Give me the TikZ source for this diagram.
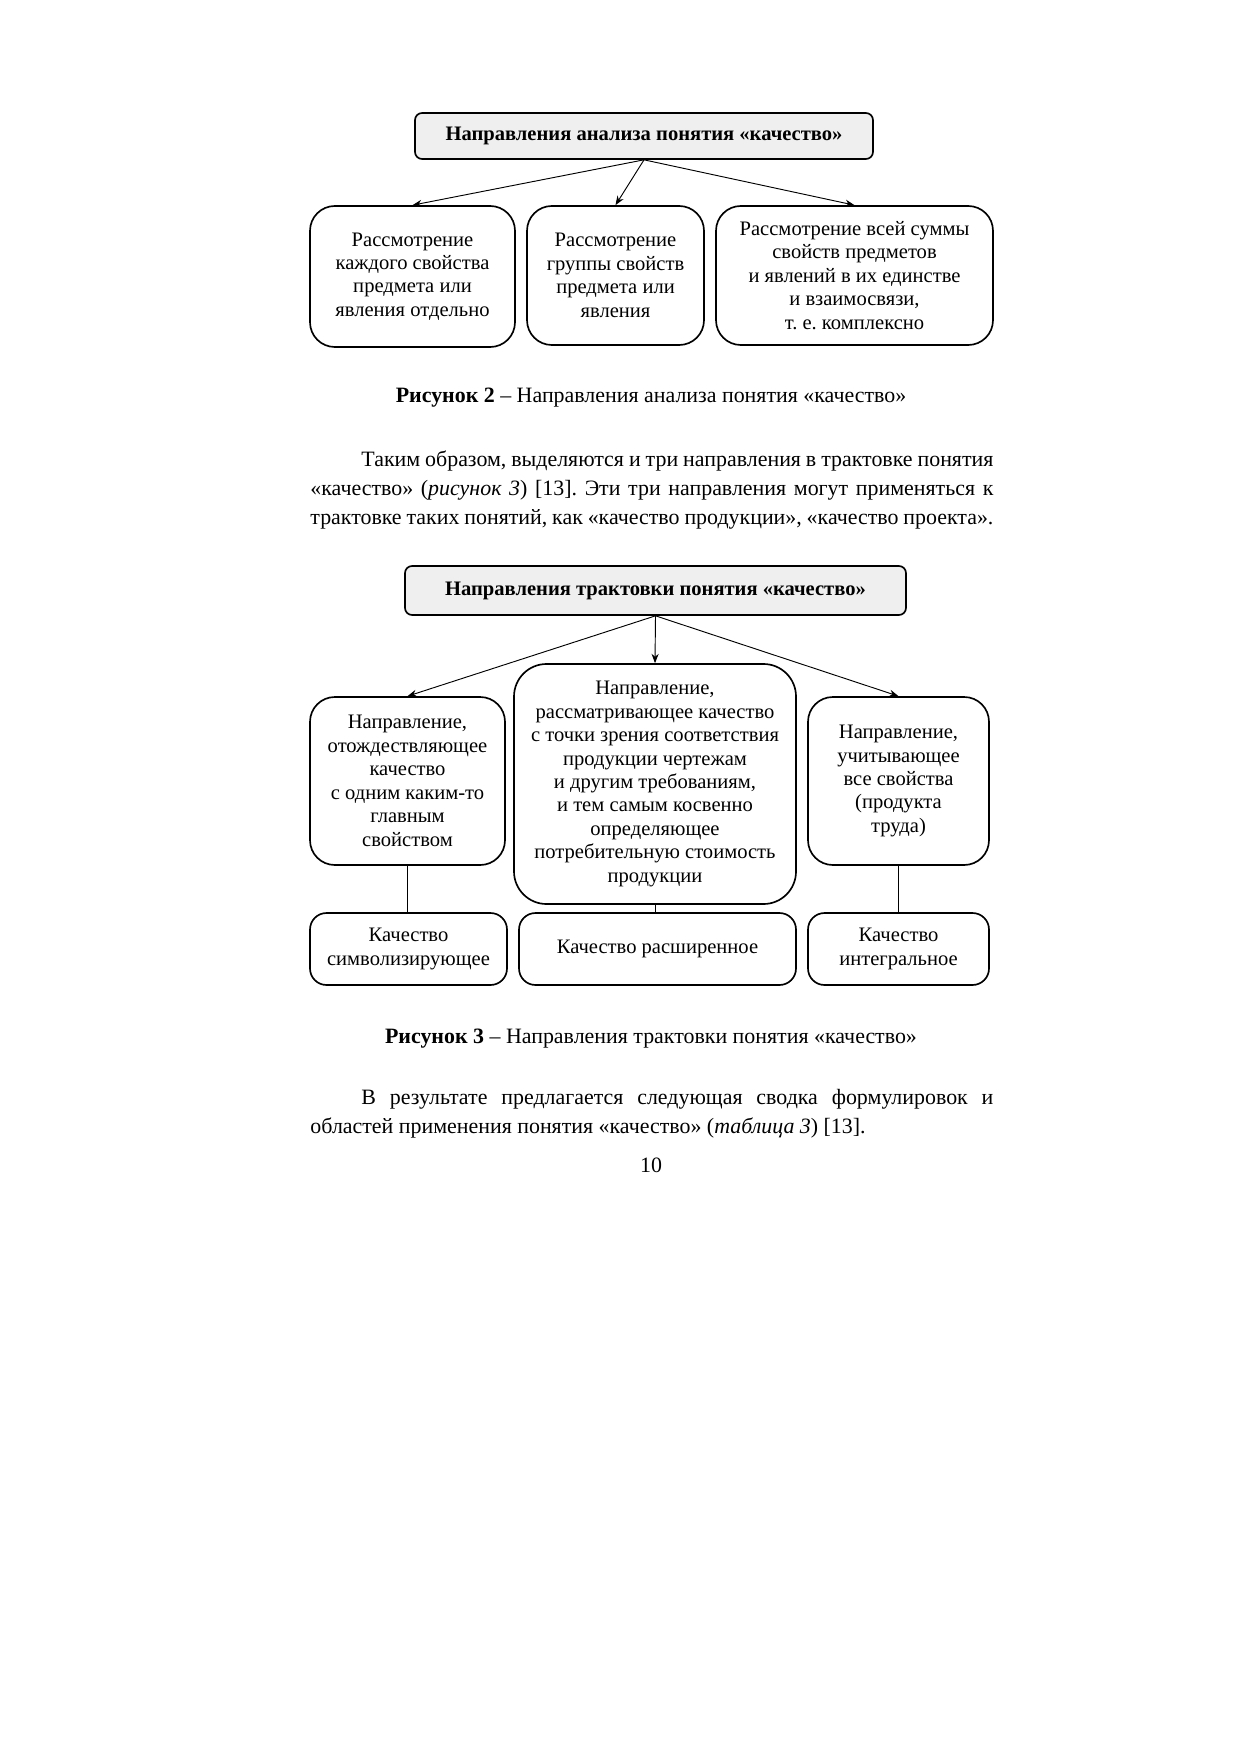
\documentclass[tikz,border=0pt]{standalone}
\usepackage{fontspec}
\setmainfont{Liberation Serif}
\usepackage{tikz}
\usetikzlibrary{arrows.meta,positioning}
\usepackage{xcolor}
\definecolor{headfill}{HTML}{EFEFEF}
\def\px{0.16922mm}
\frenchspacing

\begin{document}
\begin{tikzpicture}[
  x=\px, y=-\px,
  >={Stealth[length=4.5pt,width=3.4pt]},
  headcard/.style={
    draw=black,
    fill=headfill,
    rounded corners=1.2mm,
    line width=0.8pt,
    font=\fontsize{9.9}{11.5}\selectfont\bfseries,
    align=center,
    inner sep=0pt
  },
  dircard/.style={
    draw=black,
    fill=white,
    rounded corners=4.2mm,
    line width=0.8pt,
    font=\fontsize{9.9}{11.3}\selectfont,
    align=center,
    inner sep=0pt
  },
  resultcard/.style={dircard, rounded corners=2.8mm},
  bodyline/.style={font=\fontsize{10.55}{14.4}\selectfont, inner sep=0pt, anchor=base west},
  captionline/.style={font=\fontsize{10.55}{14.4}\selectfont, inner sep=0pt, anchor=base},
  link/.style={->, line width=0.45pt},
  stem/.style={line width=0.45pt}
]
  \useasboundingbox (0,0) rectangle (1241,1755);
  \fill[white] (0,0) rectangle (1241,1755);

  % --- FIGURE 2: analysis directions ---
  \node[headcard, minimum width=458*\px, minimum height=46*\px] (head1) at (644,136) {Направления анализа понятия «качество»};

  \node[dircard, minimum width=205*\px, minimum height=141*\px] (view1) at (412.5,276.5) {Рассмотрение\\каждого свойства\\предмета или\\явления отдельно};
  \node[dircard, minimum width=177*\px, minimum height=139*\px] (view2) at (615.5,275.5) {Рассмотрение\\группы свойств\\предмета или\\явления};
  \node[dircard, minimum width=277*\px, minimum height=139*\px] (view3) at (854.5,275.5) {Рассмотрение всей суммы\\свойств предметов\\и явлений в их единстве\\и взаимосвязи,\\т. е. комплексно};

  \draw[link] (head1.south) -- (view1.north);
  \draw[link] (head1.south) -- (view2.north);
  \draw[link] (head1.south) -- (view3.north);

  \node[captionline] (cap2) at (651,403) {\textbf{Рисунок 2} – Направления анализа понятия «качество»};

  % --- text between the figures ---
  \node[bodyline] (para1a) at (361,466) {\makebox[106.95mm][s]{Таким образом, выделяются и три направления в трактовке понятия}};
  \node[bodyline] (para1b) at (310,495) {\makebox[115.58mm][s]{«качество» (\textit{рисунок 3}) [13]. Эти три направления могут применяться к}};
  \node[bodyline] (para1c) at (310,524) {\makebox[115.58mm][s]{трактовке таких понятий, как «качество продукции», «качество проекта».}};

  % --- FIGURE 3: interpretation directions ---
  \node[headcard, minimum width=501*\px, minimum height=49*\px] (head2) at (655.5,590.5) {Направления трактовки понятия «качество»};

  \node[dircard, minimum width=195*\px, minimum height=168*\px] (sense1) at (407.5,781) {Направление,\\отождествляющее\\качество\\с одним каким-то\\главным\\свойством};
  \node[dircard, rounded corners=5.5mm, minimum width=282*\px, minimum height=240*\px] (sense2) at (655,784) {Направление,\\рассматривающее качество\\с точки зрения соответствия\\продукции чертежам\\и другим требованиям,\\и тем самым косвенно\\определяющее\\потребительную стоимость\\продукции};
  \node[dircard, minimum width=181*\px, minimum height=168*\px] (sense3) at (898.5,781) {Направление,\\учитывающее\\все свойства\\(продукта\\труда)};

  \node[resultcard, minimum width=197*\px, minimum height=72*\px] (kind1) at (408.5,949) {Качество\\символизирующее};
  \node[resultcard, minimum width=277*\px, minimum height=72*\px] (kind2) at (657.5,949) {Качество расширенное};
  \node[resultcard, minimum width=181*\px, minimum height=72*\px] (kind3) at (898.5,949) {Качество\\интегральное};

  \draw[link] (head2.south) -- (sense1.north);
  \draw[link] (head2.south) -- (sense2.north);
  \draw[link] (head2.south) -- (sense3.north);

  \draw[stem] (sense1.south) -- (sense1.south |- kind1.north);
  \draw[stem] (sense2.south) -- (sense2.south |- kind2.north);
  \draw[stem] (sense3.south) -- (sense3.south |- kind3.north);

  \node[captionline] (cap3) at (651,1043) {\textbf{Рисунок 3} – Направления трактовки понятия «качество»};

  % --- text after the figures ---
  \node[bodyline] (para2a) at (361,1104) {\makebox[106.95mm][s]{В результате предлагается следующая сводка формулировок и}};
  \node[bodyline] (para2b) at (310,1133) {областей применения понятия «качество» (\textit{таблица 3}) [13].};

  \node[captionline] (pagenum) at (651,1172) {10};
\end{tikzpicture}
\end{document}
